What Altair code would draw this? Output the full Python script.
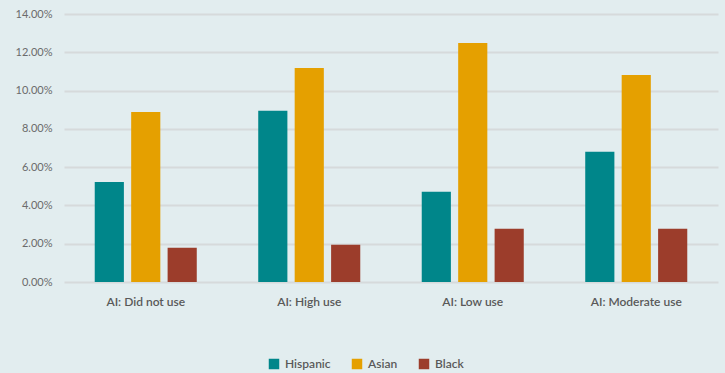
import altair as alt
import pandas as pd

groups = ["AI: Did not use", "AI: High use", "AI: Low use", "AI: Moderate use"]
series = ["Hispanic", "Asian", "Black"]
hispanic = [0.0523, 0.0894, 0.0471, 0.0680]
asian = [0.0888, 0.1118, 0.1248, 0.1081]
black = [0.0179, 0.0195, 0.0278, 0.0278]
colors = ["#00868a", "#e5a000", "#9c3d2b"]

rows = []
for name, vals in zip(series, [hispanic, asian, black]):
    for g, v in zip(groups, vals):
        rows.append({"group": g, "series": name, "value": v})
df = pd.DataFrame(rows)

font = "Lato"

chart = (
    alt.Chart(df)
    .mark_bar()
    .encode(
        x=alt.X(
            "group:N",
            sort=groups,
            title=None,
            scale=alt.Scale(paddingInner=0.376, paddingOuter=0.188),
            axis=alt.Axis(
                labelAngle=0,
                labelFont=font,
                labelFontSize=12,
                labelFontWeight=600,
                labelColor="#595959",
                labelPadding=14,
                domain=False,
                ticks=False,
            ),
        ),
        xOffset=alt.XOffset(
            "series:N", sort=series, scale=alt.Scale(paddingInner=0.2, paddingOuter=0)
        ),
        y=alt.Y(
            "value:Q",
            title=None,
            scale=alt.Scale(domain=[0, 0.14], nice=False),
            axis=alt.Axis(
                format=".2%",
                values=[0, 0.02, 0.04, 0.06, 0.08, 0.10, 0.12, 0.14],
                labelFont=font,
                labelFontSize=11,
                labelColor="#6b6b6b",
                labelPadding=12,
                domain=False,
                ticks=False,
                gridColor="#d6dadb",
                gridWidth=2,
            ),
        ),
        color=alt.Color(
            "series:N",
            sort=series,
            scale=alt.Scale(domain=series, range=colors),
            legend=alt.Legend(
                title=None,
                orient="none",
                direction="horizontal",
                legendX=204,
                legendY=344,
                symbolType="square",
                symbolSize=110,
                symbolStrokeWidth=0,
                symbolOpacity=1,
                labelFont=font,
                labelFontSize=12,
                labelFontWeight=600,
                labelColor="#595959",
                labelOffset=5,
                columnPadding=20,
            ),
        ),
    )
    .properties(
        width=654,
        height=268,
        background="#e2edef",
        padding={"left": 64, "top": 14, "right": 7, "bottom": 91},
        autosize=alt.AutoSizeParams(type="none"),
    )
    .configure_view(stroke=None)
)

chart.save("out.html", embed_options={"renderer": "svg", "actions": False})
